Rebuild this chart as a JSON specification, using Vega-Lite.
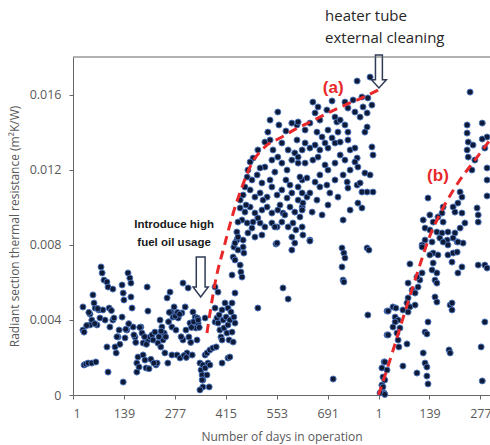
{
"$schema":"https://vega.github.io/schema/vega-lite/v6.json",
"width":417,"height":338,
"autosize":"none",
"padding":{"left":73,"top":57,"right":0,"bottom":50},
"config":{"view":{"stroke":null},"axis":{"labelOverlap":false}},
"datasets":{
"pts":[
{"d":28,"r":0.00346},{"d":31,"r":0.0016},{"d":36,"r":0.00165},{"d":42,"r":0.0017},{"d":52,"r":0.0017},{"d":63,"r":0.00176},{"d":28,"r":0.00469},{"d":47,"r":0.00431},{"d":52,"r":0.00399},{"d":55,"r":0.00533},{"d":61,"r":0.00463},{"d":66,"r":0.00373},{"d":71,"r":0.00453},{"d":77,"r":0.00682},{"d":80,"r":0.0065},{"d":85,"r":0.00612},{"d":82,"r":0.00453},{"d":88,"r":0.00399},{"d":93,"r":0.00602},{"d":96,"r":0.00575},{"d":99,"r":0.00463},{"d":101,"r":0.00362},{"d":96,"r":0.00122},{"d":93,"r":0.00256},{"d":109,"r":0.00564},{"d":109,"r":0.00399},{"d":115,"r":0.00256},{"d":118,"r":0.00224},{"d":123,"r":0.00309},{"d":126,"r":0.00346},{"d":134,"r":0.00586},{"d":134,"r":0.00415},{"d":137,"r":0.00543},{"d":139,"r":0.00506},{"d":137,"r":0.00069},{"d":142,"r":0.00304},{"d":147,"r":0.00346},{"d":150,"r":0.0065},{"d":155,"r":0.00623},{"d":158,"r":0.00596},{"d":158,"r":0.00522},{"d":161,"r":0.00463},{"d":164,"r":0.00362},{"d":169,"r":0.00309},{"d":174,"r":0.0017},{"d":174,"r":0.00122},{"d":177,"r":0.00202},{"d":180,"r":0.00149},{"d":185,"r":0.00362},{"d":188,"r":0.0033},{"d":191,"r":0.00277},{"d":191,"r":0.00213},{"d":196,"r":0.00186},{"d":199,"r":0.00144},{"d":202,"r":0.00575},{"d":204,"r":0.00447},{"d":204,"r":0.00293},{"d":210,"r":0.00309},{"d":215,"r":0.0032},{"d":218,"r":0.00293},{"d":223,"r":0.00335},{"d":226,"r":0.0016},{"d":229,"r":0.0017},{"d":231,"r":0.00277},{"d":237,"r":0.00399},{"d":239,"r":0.00256},{"d":242,"r":0.00362},{"d":245,"r":0.00293},{"d":248,"r":0.0033},{"d":250,"r":0.00224},{"d":256,"r":0.00517},{"d":258,"r":0.0017},{"d":264,"r":0.00548},{"d":267,"r":0.00442},{"d":269,"r":0.00362},{"d":269,"r":0.00213},{"d":272,"r":0.00415},{"d":275,"r":0.00469},{"d":280,"r":0.00346},{"d":283,"r":0.00213},{"d":286,"r":0.0041},{"d":291,"r":0.00197},{"d":296,"r":0.00437},{"d":299,"r":0.00596},{"d":299,"r":0.00293},{"d":305,"r":0.00469},{"d":307,"r":0.00346},{"d":310,"r":0.00224},{"d":313,"r":0.0057},{"d":315,"r":0.00309},{"d":318,"r":0.00383},{"d":324,"r":0.00213},{"d":326,"r":0.00442},{"d":332,"r":0.00415},{"d":334,"r":0.00357},{"d":337,"r":0.00293},{"d":340,"r":0.00383},{"d":345,"r":0.0017},{"d":348,"r":0.00133},{"d":351,"r":0.00107},{"d":353,"r":0.0008},{"d":353,"r":0.00043},{"d":359,"r":0.00213},{"d":359,"r":0.00149},{"d":58,"r":0.0049},{"d":47,"r":0.00373},{"d":31,"r":0.00335},
{"d":120,"r":0.0031},{"d":128,"r":0.0027},{"d":144,"r":0.0035},{"d":152,"r":0.0038},{"d":166,"r":0.0032},{"d":171,"r":0.0028},{"d":182,"r":0.0036},{"d":195,"r":0.0031},{"d":200,"r":0.0027},{"d":207,"r":0.0014},{"d":212,"r":0.0019},{"d":220,"r":0.0017},{"d":234,"r":0.0031},{"d":240,"r":0.0034},{"d":252,"r":0.0031},{"d":260,"r":0.0039},{"d":262,"r":0.0044},{"d":278,"r":0.0042},{"d":284,"r":0.0044},{"d":290,"r":0.0043},{"d":294,"r":0.0031},{"d":302,"r":0.0021},{"d":308,"r":0.002},{"d":320,"r":0.0028},{"d":322,"r":0.0036},{"d":328,"r":0.0039},{"d":343,"r":0.0036},{"d":338,"r":0.0041},{"d":105,"r":0.0045},{"d":112,"r":0.0041},{"d":74,"r":0.0041},{"d":68,"r":0.0046},{"d":38,"r":0.0037},{"d":44,"r":0.0044},{"d":60,"r":0.0038},
{"d":345,"r":0.00027},{"d":351,"r":0.0008},{"d":353,"r":0.0016},{"d":359,"r":0.00144},{"d":364,"r":0.00107},{"d":370,"r":0.00043},{"d":367,"r":0.0017},{"d":372,"r":0.0016},{"d":364,"r":0.00224},{"d":372,"r":0.0024},{"d":380,"r":0.0025},{"d":389,"r":0.00256},{"d":359,"r":0.0041},{"d":340,"r":0.00399},{"d":386,"r":0.00389},{"d":391,"r":0.0041},{"d":394,"r":0.00383},{"d":397,"r":0.00426},{"d":399,"r":0.00346},{"d":402,"r":0.00309},{"d":405,"r":0.00453},{"d":405,"r":0.00293},{"d":408,"r":0.00399},{"d":410,"r":0.00357},{"d":413,"r":0.0049},{"d":416,"r":0.00415},{"d":418,"r":0.0033},{"d":421,"r":0.00373},{"d":421,"r":0.00463},{"d":424,"r":0.00293},{"d":426,"r":0.00399},{"d":429,"r":0.00442},{"d":432,"r":0.00335},{"d":432,"r":0.0049},{"d":435,"r":0.00282},{"d":437,"r":0.00415},{"d":440,"r":0.00543},{"d":440,"r":0.00383},{"d":386,"r":0.00575},{"d":394,"r":0.00548},{"d":386,"r":0.00463},{"d":432,"r":0.00639},{"d":435,"r":0.00735},{"d":437,"r":0.00788},{"d":440,"r":0.00719},{"d":445,"r":0.00825},{"d":448,"r":0.00772},{"d":454,"r":0.00692},{"d":456,"r":0.00655},{"d":459,"r":0.00628},{"d":462,"r":0.00788},{"d":464,"r":0.00756},{"d":405,"r":0.0017},{"d":421,"r":0.00197},{"d":426,"r":0.00202},{"d":502,"r":0.00463},{"d":570,"r":0.0057},{"d":584,"r":0.00511},{"d":551,"r":0.00804},{"d":594,"r":0.00772},
{"d":556,"r":0.01507},{"d":529,"r":0.014},{"d":521,"r":0.01347},{"d":535,"r":0.01358},{"d":543,"r":0.01305},{"d":502,"r":0.01305},{"d":489,"r":0.01262},{"d":481,"r":0.01241},{"d":475,"r":0.01198},{"d":473,"r":0.01161},{"d":486,"r":0.01145},{"d":500,"r":0.01172},{"d":513,"r":0.01129},{"d":521,"r":0.01214},{"d":540,"r":0.01251},{"d":556,"r":0.01267},{"d":567,"r":0.01235},{"d":581,"r":0.01198},{"d":594,"r":0.01251},{"d":602,"r":0.01289},{"d":611,"r":0.01235},{"d":622,"r":0.01305},{"d":567,"r":0.01342},{"d":594,"r":0.01448},{"d":608,"r":0.01438},{"d":467,"r":0.01108},{"d":462,"r":0.01065},{"d":481,"r":0.01092},{"d":494,"r":0.01054},{"d":508,"r":0.01076},{"d":527,"r":0.01054},{"d":540,"r":0.01108},{"d":554,"r":0.01065},{"d":567,"r":0.01092},{"d":581,"r":0.01049},{"d":594,"r":0.01076},{"d":611,"r":0.01108},{"d":622,"r":0.01145},{"d":454,"r":0.00996},{"d":467,"r":0.00974},{"d":481,"r":0.01001},{"d":494,"r":0.00969},{"d":513,"r":0.00985},{"d":527,"r":0.01001},{"d":540,"r":0.00969},{"d":556,"r":0.00985},{"d":570,"r":0.00969},{"d":589,"r":0.01001},{"d":602,"r":0.00974},{"d":622,"r":0.01001},{"d":459,"r":0.00932},{"d":473,"r":0.00916},{"d":489,"r":0.00921},{"d":508,"r":0.00916},{"d":521,"r":0.00895},{"d":540,"r":0.00916},{"d":554,"r":0.00895},{"d":567,"r":0.00921},{"d":584,"r":0.00895},{"d":597,"r":0.00916},{"d":445,"r":0.00868},{"d":448,"r":0.00841},{"d":462,"r":0.00825},{"d":475,"r":0.00863},{"d":494,"r":0.00841},{"d":513,"r":0.00852},{"d":548,"r":0.00895},{"d":554,"r":0.00809},{"d":594,"r":0.00841},{"d":602,"r":0.00809},{"d":440,"r":0.00809},
{"d":771,"r":0.01672},{"d":806,"r":0.01693},{"d":651,"r":0.0156},{"d":703,"r":0.01566},{"d":665,"r":0.01534},{"d":689,"r":0.01518},{"d":738,"r":0.0156},{"d":760,"r":0.01571},{"d":784,"r":0.01587},{"d":800,"r":0.01582},{"d":811,"r":0.01544},{"d":746,"r":0.01528},{"d":765,"r":0.01507},{"d":787,"r":0.01534},{"d":798,"r":0.01502},{"d":779,"r":0.0148},{"d":711,"r":0.0148},{"d":716,"r":0.01454},{"d":657,"r":0.01502},{"d":643,"r":0.01448},{"d":662,"r":0.014},{"d":676,"r":0.01374},{"d":692,"r":0.01411},{"d":703,"r":0.01369},{"d":719,"r":0.014},{"d":746,"r":0.014},{"d":798,"r":0.01427},{"d":792,"r":0.014},{"d":811,"r":0.01321},{"d":611,"r":0.01454},{"d":608,"r":0.01358},{"d":630,"r":0.01342},{"d":643,"r":0.01315},{"d":657,"r":0.01331},{"d":670,"r":0.01305},{"d":684,"r":0.01342},{"d":692,"r":0.01315},{"d":711,"r":0.01342},{"d":725,"r":0.01347},{"d":746,"r":0.01358},{"d":752,"r":0.01305},{"d":765,"r":0.01315},{"d":771,"r":0.01262},{"d":765,"r":0.01241},{"d":611,"r":0.01267},{"d":630,"r":0.01235},{"d":651,"r":0.01251},{"d":665,"r":0.01267},{"d":684,"r":0.01225},{"d":692,"r":0.01198},{"d":711,"r":0.01235},{"d":738,"r":0.01251},{"d":773,"r":0.01214},{"d":792,"r":0.01182},{"d":616,"r":0.01161},{"d":635,"r":0.01156},{"d":657,"r":0.01134},{"d":670,"r":0.01108},{"d":689,"r":0.01118},{"d":697,"r":0.01076},{"d":733,"r":0.01172},{"d":744,"r":0.01134},{"d":746,"r":0.01102},{"d":771,"r":0.01118},{"d":779,"r":0.01129},{"d":784,"r":0.01081},{"d":798,"r":0.01081},{"d":814,"r":0.01081},{"d":622,"r":0.01076},{"d":635,"r":0.01054},{"d":643,"r":0.01076},{"d":611,"r":0.01038},{"d":624,"r":0.01022},{"d":662,"r":0.01038},{"d":692,"r":0.01012},{"d":719,"r":0.01054},{"d":773,"r":0.01022},{"d":784,"r":0.00996},{"d":733,"r":0.00932},{"d":616,"r":0.00948},{"d":622,"r":0.00895},{"d":624,"r":0.00852},{"d":643,"r":0.00825},{"d":730,"r":0.00783},{"d":798,"r":0.00783},{"d":622,"r":0.00985},
{"d":454,"r":0.01038},{"d":470,"r":0.01012},{"d":448,"r":0.00921},{"d":486,"r":0.00889},{"d":502,"r":0.00943},{"d":516,"r":0.01038},{"d":535,"r":0.01145},{"d":548,"r":0.01187},{"d":578,"r":0.01145},{"d":589,"r":0.01118},{"d":562,"r":0.01012},{"d":575,"r":0.00959},{"d":605,"r":0.00879},{"d":508,"r":0.01209},{"d":584,"r":0.01305},{"d":559,"r":0.01438},{"d":578,"r":0.01406},{"d":630,"r":0.01411},{"d":670,"r":0.01464},{"d":725,"r":0.01464},{"d":738,"r":0.01438},{"d":725,"r":0.01278},{"d":752,"r":0.01198},{"d":670,"r":0.01172},{"d":711,"r":0.01145},{"d":649,"r":0.00974},{"d":676,"r":0.00959},{"d":752,"r":0.00985},{"d":806,"r":0.01172},{"d":814,"r":0.01278},{"d":535,"r":0.01464},
{"d":643,"r":0.0082},{"d":735,"r":0.00756},{"d":738,"r":0.0073},{"d":730,"r":0.00682},{"d":733,"r":0.00612},{"d":735,"r":0.00602},{"d":803,"r":0.00772},{"d":800,"r":0.00426},{"d":706,"r":0.00085},
{"d":852,"r":0.00447},{"d":852,"r":0.0032},{"d":844,"r":0.00176},{"d":838,"r":0.00144},{"d":841,"r":0.00096},{"d":838,"r":0.00053},{"d":844,"r":0.0001},{"d":833,"r":0.00011},
{"d":1077,"r":0.01613},{"d":1110,"r":0.01448},{"d":1069,"r":0.01438},{"d":1069,"r":0.01395},{"d":1123,"r":0.01374},{"d":1110,"r":0.01363},{"d":1072,"r":0.01347},{"d":1085,"r":0.01331},{"d":1117,"r":0.01315},{"d":1069,"r":0.01305},{"d":1072,"r":0.01267},{"d":1090,"r":0.01251},{"d":1123,"r":0.01209},{"d":1082,"r":0.01198},{"d":1123,"r":0.01145},{"d":1050,"r":0.01081},{"d":1123,"r":0.0106},{"d":1055,"r":0.01054},{"d":963,"r":0.01049},{"d":1044,"r":0.01022},{"d":1004,"r":0.01001},{"d":1031,"r":0.01001},{"d":1036,"r":0.00974},{"d":1055,"r":0.00969},{"d":1096,"r":0.00996},{"d":1099,"r":0.00959},{"d":1001,"r":0.00969},{"d":968,"r":0.00959},{"d":990,"r":0.00948},{"d":950,"r":0.00932},{"d":977,"r":0.00921},{"d":1004,"r":0.00921},{"d":1099,"r":0.00921},{"d":955,"r":0.00889},{"d":968,"r":0.00879},{"d":987,"r":0.00868},{"d":1001,"r":0.00863},{"d":1017,"r":0.00868},{"d":1036,"r":0.00863},{"d":1063,"r":0.00916},{"d":1050,"r":0.00889},{"d":995,"r":0.00836},{"d":1015,"r":0.00825},{"d":1031,"r":0.00836},{"d":1042,"r":0.00815},{"d":974,"r":0.00815},{"d":955,"r":0.00825},{"d":947,"r":0.00799},{"d":1058,"r":0.00809},{"d":1017,"r":0.00799},
{"d":947,"r":0.00788},{"d":1004,"r":0.00815},{"d":1044,"r":0.00815},{"d":977,"r":0.00756},{"d":968,"r":0.00746},{"d":990,"r":0.00746},{"d":1017,"r":0.00746},{"d":1031,"r":0.00756},{"d":1042,"r":0.00761},{"d":1028,"r":0.00708},{"d":914,"r":0.00698},{"d":977,"r":0.00703},{"d":974,"r":0.00666},{"d":987,"r":0.0065},{"d":1055,"r":0.00682},{"d":1044,"r":0.0065},{"d":1099,"r":0.00692},{"d":1117,"r":0.00692},{"d":1123,"r":0.00676},{"d":947,"r":0.0065},{"d":941,"r":0.00612},{"d":933,"r":0.00628},{"d":982,"r":0.00612},{"d":909,"r":0.00596},{"d":936,"r":0.00575},{"d":920,"r":0.00559},{"d":928,"r":0.00543},{"d":987,"r":0.00596},{"d":982,"r":0.00522},{"d":987,"r":0.00495},{"d":909,"r":0.00517},{"d":906,"r":0.0049},{"d":914,"r":0.00469},{"d":895,"r":0.00453},{"d":909,"r":0.00442},{"d":928,"r":0.00479},{"d":855,"r":0.00447},{"d":868,"r":0.00469},{"d":876,"r":0.00463},{"d":874,"r":0.00415},{"d":882,"r":0.00399},{"d":874,"r":0.00389},{"d":868,"r":0.00362},{"d":887,"r":0.00357},{"d":879,"r":0.0033},{"d":855,"r":0.0032},{"d":882,"r":0.00293},{"d":884,"r":0.00256},{"d":906,"r":0.00272},{"d":1023,"r":0.00479},{"d":1028,"r":0.0049},{"d":1028,"r":0.00453},{"d":963,"r":0.00389},{"d":955,"r":0.00335},{"d":960,"r":0.00325},{"d":1117,"r":0.00389},{"d":1107,"r":0.00256},{"d":1020,"r":0.0024},{"d":1023,"r":0.00224},{"d":950,"r":0.00224},{"d":955,"r":0.0017},{"d":960,"r":0.00149},{"d":895,"r":0.00154},{"d":933,"r":0.00117},{"d":960,"r":0.00101},{"d":963,"r":0.00059},{"d":1110,"r":0.00075},{"d":846,"r":0.00176},{"d":852,"r":0.00133},{"d":846,"r":0.0008},{"d":841,"r":0.00043},{"d":846,"r":0.00003}
],
"curveA":[{"d":364,"r":0.0033},{"d":386,"r":0.00596},{"d":413,"r":0.00809},{"d":432,"r":0.00948},{"d":459,"r":0.01108},{"d":486,"r":0.01235},{"d":521,"r":0.01321},{"d":567,"r":0.01374},{"d":605,"r":0.01417},{"d":649,"r":0.01459},{"d":692,"r":0.01502},{"d":738,"r":0.01544},{"d":784,"r":0.01582},{"d":828,"r":0.01624}],
"curveB":[{"d":829,"r":0},{"d":860,"r":0.00186},{"d":887,"r":0.00357},{"d":914,"r":0.00527},{"d":941,"r":0.00692},{"d":968,"r":0.00847},{"d":1001,"r":0.00985},{"d":1044,"r":0.01129},{"d":1090,"r":0.01251},{"d":1131,"r":0.01358}]
},
"layer":[
{"data":{"name":"pts"},
 "mark":{"type":"circle","size":36,"fill":"#0f1a36","stroke":"#4a72b8","strokeWidth":1,"opacity":1},
 "encoding":{
  "x":{"field":"d","type":"quantitative","scale":{"domain":[1,1131],"nice":false,"zero":false},
   "axis":{"title":"Number of days in operation","values":[1,70,139,208,277,346,415,484,553,622,691,760,829,898,967,1036,1105],
    "labelExpr":"datum.value>828 ? (datum.value-828)+'' : datum.value+''",
    "labelOverlap":false,
    "domain":true,"domainColor":"#666666","domainWidth":1,"ticks":true,"tickColor":"#666666","tickWidth":1,"tickSize":4,
    "labelColor":"#595959","labelFont":"Open Sans","labelFontSize":12.5,"labelPadding":8,"grid":false,
    "titleFont":"Open Sans","titleFontSize":12,"titleFontWeight":"normal","titleColor":"#595959","titlePadding":12}},
  "y":{"field":"r","type":"quantitative","scale":{"domain":[0,0.018],"nice":false,"zero":true},
   "axis":{"title":"Radiant section thermal resistance (m²K/W)",
    "values":[0,0.002,0.004,0.006,0.008,0.01,0.012,0.014,0.016,0.018],
    "labelExpr":"format(datum.value,'~g')",
    "labelOverlap":false,
    "domain":true,"domainColor":"#666666","domainWidth":1,"ticks":true,"tickColor":"#666666","tickWidth":1,"tickSize":4,
    "labelColor":"#595959","labelFont":"Open Sans","labelFontSize":12.5,"labelPadding":8,"grid":false,
    "titleFont":"Open Sans","titleFontSize":12,"titleFontWeight":"normal","titleColor":"#595959","titlePadding":8}}
 }},
{"data":{"name":"curveA"},"mark":{"type":"line","color":"#e8282b","strokeWidth":3,"strokeDash":[9,6],"interpolate":"monotone"},
 "encoding":{"x":{"field":"d","type":"quantitative"},"y":{"field":"r","type":"quantitative"}}},
{"data":{"name":"curveB"},"mark":{"type":"line","color":"#e8282b","strokeWidth":3,"strokeDash":[9,6],"interpolate":"monotone","clip":true},
 "encoding":{"x":{"field":"d","type":"quantitative"},"y":{"field":"r","type":"quantitative"}}},
{"data":{"values":[{"a":1}]},"mark":{"type":"point","shape":"M-0.21,-1L0.21,-1L0.21,0.5L0.45,0.5L0,1L-0.45,0.5L-0.21,0.5Z","size":1089,"filled":true,"fill":"white","stroke":"#2f3b55","strokeWidth":1.5,"opacity":1},
 "encoding":{"x":{"datum":830,"type":"quantitative"},"y":{"datum":0.01723,"type":"quantitative"}}},
{"data":{"values":[{"a":1}]},"mark":{"type":"point","shape":"M-0.22,-1L0.22,-1L0.22,0.5L0.38,0.5L0,1L-0.38,0.5L-0.22,0.5Z","size":1600,"filled":true,"fill":"white","stroke":"#2f3b55","strokeWidth":1.5,"opacity":1},
 "encoding":{"x":{"datum":347,"type":"quantitative"},"y":{"datum":0.00628,"type":"quantitative"}}},
{"data":{"values":[{"a":1}]},"mark":{"type":"text","text":"heater tube","align":"left","baseline":"middle","font":"Open Sans","fontSize":15,"color":"#262626"},
 "encoding":{"x":{"datum":684,"type":"quantitative"},"y":{"datum":0.02018,"type":"quantitative"}}},
{"data":{"values":[{"a":1}]},"mark":{"type":"text","text":"external cleaning","align":"left","baseline":"middle","font":"Open Sans","fontSize":15,"color":"#262626"},
 "encoding":{"x":{"datum":684,"type":"quantitative"},"y":{"datum":0.01901,"type":"quantitative"}}},
{"data":{"values":[{"a":1}]},"mark":{"type":"text","text":"(a)","align":"center","baseline":"middle","font":"Liberation Sans","fontSize":17,"fontWeight":"bold","color":"#e8282b"},
 "encoding":{"x":{"datum":706,"type":"quantitative"},"y":{"datum":0.01635,"type":"quantitative"}}},
{"data":{"values":[{"a":1}]},"mark":{"type":"text","text":"(b)","align":"center","baseline":"middle","font":"Liberation Sans","fontSize":17,"fontWeight":"bold","color":"#e8282b"},
 "encoding":{"x":{"datum":990,"type":"quantitative"},"y":{"datum":0.01166,"type":"quantitative"}}},
{"data":{"values":[{"a":1}]},"mark":{"type":"text","text":"Introduce high","align":"center","baseline":"middle","font":"Liberation Sans","fontSize":11.5,"fontWeight":"bold","color":"#1a1a1a"},
 "encoding":{"x":{"datum":275,"type":"quantitative"},"y":{"datum":0.00905,"type":"quantitative"}}},
{"data":{"values":[{"a":1}]},"mark":{"type":"text","text":"fuel oil usage","align":"center","baseline":"middle","font":"Liberation Sans","fontSize":11.5,"fontWeight":"bold","color":"#1a1a1a"},
 "encoding":{"x":{"datum":275,"type":"quantitative"},"y":{"datum":0.00809,"type":"quantitative"}}},
{"data":{"values":[{"a":1}]},"mark":{"type":"rule","color":"#666666","strokeWidth":1},
 "encoding":{"x":{"datum":1,"type":"quantitative"},"x2":{"datum":1131},"y":{"datum":0.018,"type":"quantitative"}}}
]
}
